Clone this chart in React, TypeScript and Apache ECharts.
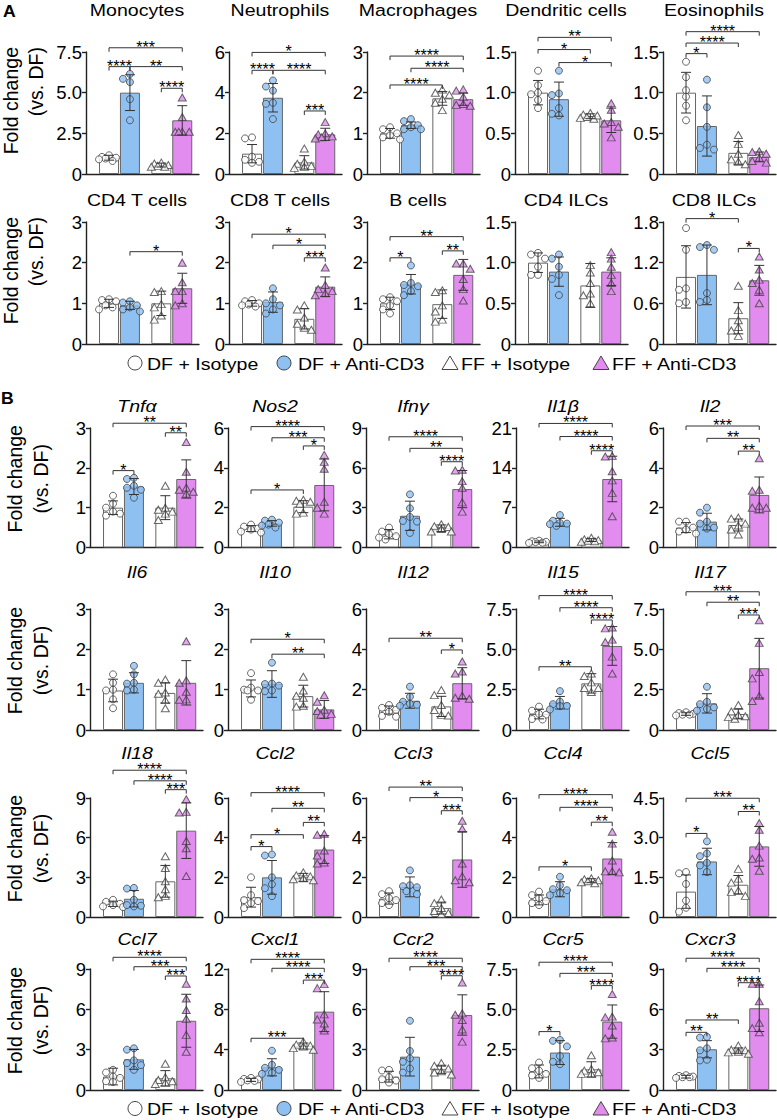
import React, { useEffect, useRef } from 'react';
import * as echarts from 'echarts';

const FONT = '"Liberation Sans", Arial, Helvetica, sans-serif';

// ---------- data ----------
const groupNames = ['DF + Isotype', 'DF + Anti-CD3', 'FF + Isotype', 'FF + Anti-CD3'];

const titles = [
  'Monocytes', 'Neutrophils', 'Macrophages', 'Dendritic cells', 'Eosinophils',
  'CD4 T cells', 'CD8 T cells', 'B cells', 'CD4 ILCs', 'CD8 ILCs',
  'Tnfα', 'Nos2', 'Ifnγ', 'Il1β', 'Il2',
  'Il6', 'Il10', 'Il12', 'Il15', 'Il17',
  'Il18', 'Ccl2', 'Ccl3', 'Ccl4', 'Ccl5',
  'Ccl7', 'Cxcl1', 'Ccr2', 'Ccr5', 'Cxcr3',
];

const yMaxes = [7.5, 6, 3, 1.5, 1.5, 3, 3, 3, 1.5, 1.8, 3, 6, 9, 21, 6, 3, 3, 6, 7.5, 7.5, 9, 6, 6, 6, 4.5, 9, 12, 9, 7.5, 9];
const yIntervals = [2.5, 2, 1, 0.5, 0.5, 1, 1, 1, 0.5, 0.6, 1, 2, 3, 7, 2, 1, 1, 2, 2.5, 2.5, 3, 2, 2, 2, 1.5, 3, 4, 3, 2.5, 3];

const means = [
  [1.0, 5.0, 0.55, 3.3], [1.0, 3.75, 0.57, 1.95], [1.0, 1.2, 1.86, 1.84], [1.0, 0.92, 0.71, 0.66], [1.0, 0.59, 0.26, 0.21],
  [1.0, 0.95, 1.0, 1.37], [1.0, 1.03, 0.62, 1.41], [1.0, 1.47, 0.98, 1.7], [1.0, 0.89, 0.72, 0.89], [0.99, 1.02, 0.38, 0.94],
  [1.0, 1.53, 1.0, 1.72], [0.95, 1.21, 2.05, 3.14], [1.0, 2.39, 1.45, 4.4], [1.0, 4.43, 1.3, 12.04], [1.0, 1.3, 1.13, 2.64],
  [0.98, 1.17, 0.92, 1.17], [1.03, 1.14, 0.84, 0.51], [0.99, 1.45, 1.17, 2.32], [0.99, 1.69, 2.89, 5.21], [0.99, 1.65, 0.99, 3.83],
  [1.0, 1.38, 2.7, 6.53], [1.0, 2.0, 2.0, 3.4], [0.93, 1.52, 0.45, 2.9], [0.86, 1.4, 1.83, 2.95], [0.96, 2.1, 1.22, 2.67],
  [1.0, 2.28, 0.87, 5.15], [1.0, 2.25, 4.36, 7.77], [0.99, 2.48, 1.54, 5.58], [1.15, 2.32, 1.28, 4.24], [0.99, 3.03, 2.93, 6.08],
];

const sds = [
  [0.15, 1.1, 0.12, 0.9], [0.45, 0.7, 0.33, 0.3], [0.12, 0.08, 0.17, 0.15], [0.15, 0.21, 0.03, 0.15], [0.25, 0.37, 0.14, 0.06],
  [0.1, 0.1, 0.3, 0.37], [0.07, 0.25, 0.25, 0.24], [0.15, 0.24, 0.35, 0.38], [0.12, 0.18, 0.27, 0.17], [0.46, 0.44, 0.23, 0.22],
  [0.17, 0.2, 0.3, 0.48], [0.15, 0.14, 0.3, 1.3], [0.35, 1.1, 0.25, 1.4], [0.15, 0.7, 0.25, 4.0], [0.25, 0.42, 0.3, 0.9],
  [0.28, 0.25, 0.25, 0.55], [0.21, 0.33, 0.27, 0.22], [0.2, 0.37, 0.5, 0.77], [0.3, 0.39, 0.6, 1.2], [0.08, 0.6, 0.3, 1.85],
  [0.2, 0.62, 1.2, 2.1], [0.5, 0.85, 0.2, 0.7], [0.28, 0.5, 0.3, 1.4], [0.25, 0.38, 0.1, 0.8], [0.63, 0.5, 0.35, 0.75],
  [0.62, 0.74, 0.57, 1.97], [0.15, 0.85, 0.3, 1.98], [0.4, 1.44, 0.3, 1.5], [0.4, 0.74, 0.47, 1.03], [0.1, 0.64, 0.2, 1.73],
];

const points = [
  [[1.15, 1.05, 1.0, 0.95, 0.9, 0.8], [5.85, 6.15, 5.65, 4.6, 3.3], [0.7, 0.65, 0.55, 0.5, 0.45, 0.45], [4.7, 3.5, 2.6, 2.6, 2.6, 2.6]],
  [[1.8, 1.75, 0.85, 0.7, 0.55, 0.6], [4.6, 4.3, 4.1, 3.5, 3.45, 2.7], [1.25, 0.6, 0.5, 0.4, 0.35, 0.3], [2.55, 2.0, 1.95, 1.85, 1.8, 1.75]],
  [[1.15, 1.1, 1.0, 0.95, 0.9, 0.85], [1.35, 1.3, 1.2, 1.15, 1.1, 1.1], [2.08, 2.0, 1.95, 1.85, 1.75, 1.57], [2.08, 2.05, 1.9, 1.72, 1.7, 1.68]],
  [[1.27, 1.09, 1.0, 0.98, 0.91, 0.81], [1.27, 0.99, 0.97, 0.81, 0.74, 0.72], [0.75, 0.73, 0.72, 0.7, 0.69, 0.68], [0.87, 0.79, 0.64, 0.58, 0.45, 0.62]],
  [[1.38, 1.19, 1.03, 0.95, 0.84, 0.66], [1.16, 0.58, 0.36, 0.3, 0.32, 0.82], [0.48, 0.37, 0.25, 0.18, 0.15, 0.12], [0.28, 0.27, 0.25, 0.2, 0.16, 0.14]],
  [[1.1, 1.08, 1.05, 0.95, 0.9, 0.85], [1.05, 1.02, 0.95, 0.9, 0.85, 0.8], [1.3, 1.28, 0.98, 0.9, 0.7, 0.6], [2.0, 1.52, 1.3, 1.3, 1.0, 0.95]],
  [[1.08, 1.05, 1.0, 0.97, 0.95, 0.92], [1.37, 1.1, 1.0, 0.95, 0.85, 0.75], [0.95, 0.85, 0.65, 0.5, 0.4, 0.35], [1.88, 1.45, 1.35, 1.3, 1.25, 1.2]],
  [[1.15, 1.1, 1.05, 0.95, 0.85, 0.75], [1.93, 1.5, 1.45, 1.42, 1.3, 1.2], [1.32, 1.28, 0.95, 0.8, 0.6, 0.55], [1.98, 1.98, 1.85, 1.6, 1.35, 1.07]],
  [[1.12, 1.1, 1.05, 0.95, 0.85, 0.85], [1.1, 1.05, 0.95, 0.85, 0.8, 0.6], [0.97, 0.88, 0.75, 0.62, 0.5, 0.6], [1.13, 1.05, 0.95, 0.85, 0.75, 0.65]],
  [[1.71, 1.39, 0.82, 0.8, 0.6, 0.62], [1.46, 1.43, 1.39, 0.75, 0.65, 0.62], [0.86, 0.5, 0.35, 0.25, 0.2, 0.12], [1.29, 1.1, 0.95, 0.9, 0.8, 0.6]],
  [[1.3, 1.1, 1.0, 0.9, 0.85, 0.8], [1.75, 1.72, 1.55, 1.5, 1.45, 1.25], [1.55, 1.0, 0.95, 0.9, 0.85, 0.69], [2.65, 1.9, 1.45, 1.4, 1.5, 1.35]],
  [[1.15, 1.05, 0.95, 0.9, 0.8, 0.75], [1.4, 1.35, 1.25, 1.15, 1.1, 1.0], [2.4, 2.35, 2.3, 2.2, 1.75, 1.7], [4.65, 4.3, 3.95, 2.3, 2.0, 1.7]],
  [[1.5, 1.2, 1.0, 0.85, 0.75, 0.6], [4.0, 2.95, 2.3, 2.0, 1.95, 1.1], [1.75, 1.6, 1.55, 1.4, 1.2, 1.2], [5.85, 5.8, 5.0, 4.5, 3.4, 2.7]],
  [[1.2, 1.1, 1.0, 0.95, 0.85, 0.8], [5.7, 4.7, 4.3, 4.2, 4.1, 3.8], [1.7, 1.45, 1.3, 1.2, 1.1, 1.0], [16.0, 16.1, 13.4, 11.8, 9.6, 5.5]],
  [[1.3, 1.3, 1.0, 0.9, 0.8, 0.7], [2.0, 1.75, 1.3, 1.2, 1.0, 0.95], [1.5, 1.45, 1.2, 1.1, 0.9, 0.65], [4.48, 2.9, 2.85, 2.1, 2.0, 2.0]],
  [[1.38, 1.17, 1.0, 0.98, 0.76, 0.54], [1.59, 1.38, 1.17, 1.15, 1.0, 0.98], [1.25, 1.17, 0.93, 0.9, 0.74, 0.54], [2.2, 1.23, 1.17, 0.95, 0.76, 0.75]],
  [[1.41, 1.05, 1.0, 0.98, 0.98, 0.75], [1.67, 1.15, 1.14, 1.1, 0.98, 0.96], [1.32, 0.98, 0.85, 0.8, 0.6, 0.58], [0.86, 0.7, 0.5, 0.47, 0.4, 0.38]],
  [[1.24, 1.1, 1.0, 0.9, 0.7, 0.66], [2.15, 1.65, 1.4, 1.3, 1.25, 1.2], [1.98, 1.73, 1.24, 0.99, 0.75, 0.72], [3.4, 2.9, 2.8, 1.7, 1.6, 1.55]],
  [[1.45, 1.2, 1.0, 0.95, 0.68, 0.65], [2.41, 1.76, 1.6, 1.5, 1.48, 1.27], [3.5, 3.35, 2.95, 2.6, 2.6, 2.35], [6.3, 6.35, 5.6, 5.45, 4.55, 3.5]],
  [[1.1, 1.05, 1.0, 0.95, 0.95, 0.9], [2.68, 1.75, 1.6, 1.4, 1.3, 1.2], [1.55, 1.15, 0.95, 0.85, 0.8, 0.7], [6.8, 5.4, 3.6, 3.2, 2.1, 1.8]],
  [[1.3, 1.15, 1.0, 0.9, 0.8, 0.75], [2.2, 2.15, 1.3, 0.9, 0.85, 0.8], [4.6, 3.7, 2.7, 2.1, 1.6, 1.5], [8.9, 7.9, 7.95, 5.75, 5.2, 3.1]],
  [[2.0, 1.1, 0.85, 0.8, 0.7, 0.45], [3.15, 3.1, 2.0, 1.65, 1.45, 1.05], [2.25, 2.1, 2.05, 1.95, 1.9, 1.85], [4.2, 4.15, 3.35, 3.1, 2.75, 2.7]],
  [[1.3, 1.15, 0.95, 0.85, 0.7, 0.6], [2.35, 1.6, 1.55, 1.5, 1.3, 1.15], [0.88, 0.7, 0.45, 0.3, 0.2, 0.15], [4.85, 4.45, 2.7, 2.05, 1.85, 1.75]],
  [[1.28, 1.1, 0.95, 0.8, 0.7, 0.6], [2.03, 1.6, 1.4, 1.35, 1.2, 1.1], [1.95, 1.9, 1.85, 1.8, 1.75, 1.7], [4.3, 3.7, 2.85, 2.3, 2.3, 2.25]],
  [[1.7, 1.65, 1.25, 0.62, 0.35, 0.2], [2.86, 2.4, 2.3, 2.05, 1.95, 1.7], [1.82, 1.45, 1.3, 1.0, 0.95, 0.8], [3.55, 3.3, 2.7, 2.25, 2.2, 1.75]],
  [[1.5, 1.3, 1.0, 0.9, 0.65, 0.6], [3.1, 3.0, 2.2, 2.0, 1.85, 1.5], [1.95, 0.95, 0.75, 0.65, 0.55, 0.45], [7.9, 6.8, 5.95, 5.3, 4.1, 2.85]],
  [[1.2, 1.1, 1.05, 0.95, 0.9, 0.8], [3.9, 2.5, 2.2, 2.0, 1.7, 1.6], [4.8, 4.5, 4.4, 4.3, 4.15, 4.0], [10.5, 10.1, 7.5, 7.0, 6.6, 5.9]],
  [[1.5, 1.45, 0.95, 0.8, 0.7, 0.55], [5.15, 2.9, 2.35, 2.1, 1.6, 1.3], [2.0, 1.8, 1.6, 1.4, 1.3, 1.15], [8.0, 5.7, 5.6, 5.2, 4.5, 3.6]],
  [[1.7, 1.35, 1.2, 1.0, 0.9, 0.75], [3.1, 3.05, 2.7, 2.1, 1.75, 1.6], [2.15, 1.3, 1.2, 1.1, 1.0, 1.0], [5.95, 4.55, 4.5, 4.0, 3.25, 3.2]],
  [[1.1, 1.05, 1.0, 0.95, 0.95, 0.9], [3.95, 3.9, 3.1, 2.95, 2.25, 2.2], [3.3, 3.0, 2.95, 2.85, 2.8, 2.7], [7.9, 7.9, 6.6, 5.0, 4.6, 4.3]],
];

// [group from, group to, level (y units), label]
const brackets: [number, number, number, string][][] = [
  [[1, 4, 7.76, '***'], [1, 2, 6.6, '****'], [2, 4, 6.6, '**'], [3, 4, 5.27, '****']],
  [[1, 4, 5.98, '*'], [1, 2, 5.1, '****'], [2, 4, 5.1, '****'], [3, 4, 3.1, '***']],
  [[1, 4, 2.9, '****'], [2, 4, 2.6, '****'], [1, 3, 2.19, '****']],
  [[1, 4, 1.68, '**'], [1, 3, 1.53, '*'], [2, 4, 1.37, '*']],
  [[1, 4, 1.75, '****'], [1, 3, 1.61, '****'], [1, 2, 1.48, '*']],
  [[2, 4, 2.27, '*']],
  [[1, 4, 2.7, '*'], [2, 4, 2.43, '*'], [3, 4, 2.12, '***']],
  [[1, 4, 2.64, '**'], [1, 2, 2.12, '*'], [3, 4, 2.29, '**']],
  [],
  [[1, 3, 1.85, '*'], [3, 4, 1.41, '*']],
  [[1, 4, 3.12, '**'], [3, 4, 2.88, '**'], [1, 2, 1.93, '*']],
  [[1, 4, 6.07, '****'], [2, 4, 5.51, '***'], [3, 4, 5.1, '*'], [1, 3, 2.89, '*']],
  [[1, 4, 8.34, '****'], [2, 4, 7.47, '**'], [3, 4, 6.46, '****']],
  [[1, 4, 21.8, '****'], [2, 4, 19.5, '****'], [3, 4, 17.0, '****']],
  [[1, 4, 6.1, '***'], [2, 4, 5.48, '**'], [3, 4, 4.84, '**']],
  [],
  [[1, 4, 2.25, '*'], [2, 4, 1.88, '**']],
  [[1, 4, 4.55, '**'], [3, 4, 3.97, '*']],
  [[1, 4, 8.33, '****'], [2, 4, 7.58, '****'], [3, 4, 6.82, '****'], [1, 3, 3.92, '**']],
  [[1, 4, 8.57, '***'], [2, 4, 7.92, '**'], [3, 4, 7.13, '***']],
  [[1, 4, 11.1, '****'], [2, 4, 10.3, '****'], [3, 4, 9.63, '***']],
  [[1, 4, 6.27, '****'], [2, 4, 5.48, '**'], [3, 4, 4.77, '**'], [1, 3, 4.15, '*'], [1, 2, 3.55, '*']],
  [[1, 4, 6.55, '**'], [2, 4, 6.02, '*'], [3, 4, 5.36, '***']],
  [[1, 4, 6.17, '****'], [2, 4, 5.53, '****'], [3, 4, 4.78, '**'], [1, 3, 2.53, '*']],
  [[1, 4, 4.49, '***'], [3, 4, 3.99, '**'], [1, 2, 3.16, '*']],
  [[1, 4, 9.87, '****'], [2, 4, 9.17, '***'], [3, 4, 8.48, '***']],
  [[1, 4, 12.96, '****'], [2, 4, 12.07, '****'], [3, 4, 10.9, '***'], [1, 3, 5.13, '***']],
  [[1, 4, 9.8, '****'], [2, 4, 9.17, '***'], [3, 4, 8.5, '****']],
  [[1, 4, 7.92, '****'], [2, 4, 7.23, '***'], [3, 4, 6.47, '****'], [1, 2, 3.62, '*']],
  [[1, 4, 9.8, '****'], [2, 4, 9.05, '****'], [3, 4, 7.98, '****'], [1, 3, 5.21, '**'], [1, 2, 4.29, '**']],
];

// ---------- layout & style ----------
const GROUP_X = [1, 2, 3.5, 4.5];
const X_MIN = -0.1;
const X_MAX = 5.3;
const PLOT_W = 113;
const ROW_TOP = [52, 222, 428, 609, 798, 969];
const ROW_BOTTOM = [174, 344, 547.5, 730, 917, 1090];
const COL_LEFT_A = [86, 229, 367, 515, 663];
const COL_LEFT_B = [90, 228, 366, 516, 663];
const TITLE_Y = [10, 200, 405.5, 572, 752.5, 938.5];
const FILLS = ['#ffffff', '#8ec0f2', '#ffffff', '#e28cf0'];
const SYMBOLS = ['circle', 'circle', 'triangle', 'triangle'];
const INK = '#222';

function swarmOffsets(vals: number[], pxPerY: number): number[] {
  const order = vals.map((_, k) => k).sort((a, b) => vals[b] - vals[a]);
  const placed: { x: number; y: number }[] = [];
  const offs = new Array(vals.length).fill(0);
  const cands = [0, -7, 7, -3.5, 3.5, -10, 10];
  for (const k of order) {
    const y = vals[k] * pxPerY;
    let best = 0;
    let bestD = -1;
    for (const c of cands) {
      let d = Infinity;
      for (const p of placed) d = Math.min(d, Math.hypot(p.x - c, p.y - y));
      if (d >= 6.5) { best = c; bestD = d; break; }
      if (d > bestD) { bestD = d; best = c; }
    }
    offs[k] = best;
    placed.push({ x: best, y });
  }
  return offs;
}

function buildOption() {
  const grid: any[] = [];
  const xAxis: any[] = [];
  const yAxis: any[] = [];
  const series: any[] = [];
  const graphic: any[] = [];
  const axisLine = { show: true, onZero: false, lineStyle: { color: INK, width: 1.4 } };
  const pxPerX = PLOT_W / (X_MAX - X_MIN);

  for (let i = 0; i < titles.length; i++) {
    const row = Math.floor(i / 5);
    const col = i % 5;
    const left = (row < 2 ? COL_LEFT_A : COL_LEFT_B)[col];
    const top = ROW_TOP[row];
    const h = ROW_BOTTOM[row] - top;
    const dec = yIntervals[i] % 1 === 0 ? 0 : 1;
    grid.push({ left, top, width: PLOT_W, height: h, containLabel: false });
    xAxis.push({
      type: 'value', gridIndex: i, min: X_MIN, max: X_MAX,
      axisLine, axisTick: { show: false }, axisLabel: { show: false }, splitLine: { show: false },
    });
    yAxis.push({
      type: 'value', gridIndex: i, min: 0, max: yMaxes[i], interval: yIntervals[i],
      axisLine, axisTick: { show: true, length: 4, lineStyle: { color: INK, width: 1.4 } },
      axisLabel: {
        fontSize: 18.5, color: '#000', margin: 4, fontFamily: FONT,
        formatter: (v: number) => (v === 0 ? '0' : v.toFixed(dec)),
      },
      splitLine: { show: false },
    });

    series.push({
      type: 'bar', xAxisIndex: i, yAxisIndex: i, barWidth: 20, z: 2,
      itemStyle: { borderColor: '#666', borderWidth: 1 },
      data: means[i].map((m, g) => ({ value: [GROUP_X[g], m], itemStyle: { color: FILLS[g] } })),
    });

    const pxPerY = h / yMaxes[i];
    const scatterData: any[] = [];
    points[i].forEach((vals, g) => {
      const offs = swarmOffsets(vals, pxPerY);
      vals.forEach((v, k) => {
        scatterData.push({
          value: [GROUP_X[g] + offs[k] / pxPerX, v],
          symbol: SYMBOLS[g],
          symbolSize: g < 2 ? 7 : [8, 7],
          itemStyle: { color: FILLS[g], borderColor: '#444', borderWidth: 1 },
        });
      });
    });
    series.push({ type: 'scatter', xAxisIndex: i, yAxisIndex: i, z: 3, data: scatterData });

    series.push({
      type: 'custom', xAxisIndex: i, yAxisIndex: i, z: 4,
      data: means[i].map((m, g) => [GROUP_X[g], m, sds[i][g]]),
      renderItem: (_p: any, api: any) => {
        const x = api.value(0), m = api.value(1), s = api.value(2);
        const t = api.coord([x, m + s]);
        const b = api.coord([x, Math.max(0, m - s)]);
        const st = { stroke: '#333', lineWidth: 1 };
        return {
          type: 'group', children: [
            { type: 'line', shape: { x1: t[0], y1: t[1], x2: b[0], y2: b[1] }, style: st },
            { type: 'line', shape: { x1: t[0] - 5, y1: t[1], x2: t[0] + 5, y2: t[1] }, style: st },
            { type: 'line', shape: { x1: b[0] - 5, y1: b[1], x2: b[0] + 5, y2: b[1] }, style: st },
          ],
        };
      },
    });

    const br = brackets[i];
    if (br.length) {
      series.push({
        type: 'custom', xAxisIndex: i, yAxisIndex: i, z: 5, clip: false,
        data: br.map((b) => [GROUP_X[b[0] - 1], b[2], GROUP_X[b[1] - 1]]),
        renderItem: (p: any, api: any) => {
          const lab = br[p.dataIndex][3];
          const p1 = api.coord([api.value(0), api.value(1)]);
          const p2 = api.coord([api.value(2), api.value(1)]);
          const y = p1[1];
          return {
            type: 'group', children: [
              {
                type: 'polyline',
                shape: { points: [[p1[0], y + 4], [p1[0], y], [p2[0], y], [p2[0], y + 4]] },
                style: { stroke: '#333', fill: null, lineWidth: 1 },
              },
              {
                type: 'text', x: (p1[0] + p2[0]) / 2, y: y - 0.5,
                style: {
                  text: lab, fontSize: 16, fontFamily: FONT, fill: '#000',
                  align: 'center', textAlign: 'center', verticalAlign: 'middle', textVerticalAlign: 'middle',
                },
              },
            ],
          };
        },
      });
    }

    graphic.push({
      type: 'text', x: left + (row < 2 ? 51 : 47), y: TITLE_Y[row], scaleX: 1.15,
      style: {
        text: titles[i], fontSize: 17, fontFamily: FONT, fontStyle: row < 2 ? 'normal' : 'italic', fill: '#000',
        align: 'center', textAlign: 'center', verticalAlign: 'middle', textVerticalAlign: 'middle',
      },
    });
  }

  // y-axis names
  for (let row = 0; row < 6; row++) {
    const isA = row < 2;
    const xs = isA ? [11, 36] : [15, 41];
    const yc = isA ? ROW_TOP[row] - 5 : (ROW_TOP[row] + ROW_BOTTOM[row]) / 2 - 9;
    ['Fold change', '(vs. DF)'].forEach((t, k) => {
      graphic.push({
        type: 'text', x: xs[k], y: yc, rotation: Math.PI / 2,
        style: {
          text: t, fontSize: 19.5, fontFamily: FONT, fill: '#000',
          align: isA ? 'right' : 'center', textAlign: isA ? 'right' : 'center',
          verticalAlign: 'middle', textVerticalAlign: 'middle',
        },
      });
    });
  }

  // panel letters
  [['A', 3, 12], ['B', 1, 398.5]].forEach(([t, x, y]) => {
    graphic.push({
      type: 'text', x, y, scaleX: 1.1,
      style: { text: t, fontSize: 16, fontWeight: 'bold', fontFamily: FONT, fill: '#000', verticalAlign: 'middle', textVerticalAlign: 'middle' },
    });
  });

  // legends
  const markerX = [135, 284, 450, 601];
  const textX = [147, 298, 461, 612];
  [363, 1108.5].forEach((ly) => {
    groupNames.forEach((name, g) => {
      const cx = markerX[g];
      const st = { fill: FILLS[g], stroke: '#444', lineWidth: 1 };
      if (g < 2) {
        graphic.push({ type: 'circle', shape: { cx, cy: ly, r: 7 }, style: st });
      } else {
        graphic.push({ type: 'polygon', shape: { points: [[cx - 8, ly + 6.5], [cx + 8, ly + 6.5], [cx, ly - 7]] }, style: st });
      }
      graphic.push({
        type: 'text', x: textX[g], y: ly + 0.5, scaleX: 1.15,
        style: { text: name, fontSize: 17, fontFamily: FONT, fill: '#000', verticalAlign: 'middle', textVerticalAlign: 'middle' },
      });
    });
  });

  return {
    animation: false,
    backgroundColor: '#fff',
    textStyle: { fontFamily: FONT },
    grid, xAxis, yAxis, series, graphic,
  };
}

export default function App() {
  const ref = useRef<HTMLDivElement>(null);
  useEffect(() => {
    const chart = echarts.init(ref.current!, null, { renderer: 'svg' });
    chart.setOption(buildOption() as any);
    return () => chart.dispose();
  }, []);
  return (
    <div
      ref={ref}
      style={{ position: 'fixed', left: 0, top: 0, width: 777, height: 1120, background: '#fff' }}
    />
  );
}
